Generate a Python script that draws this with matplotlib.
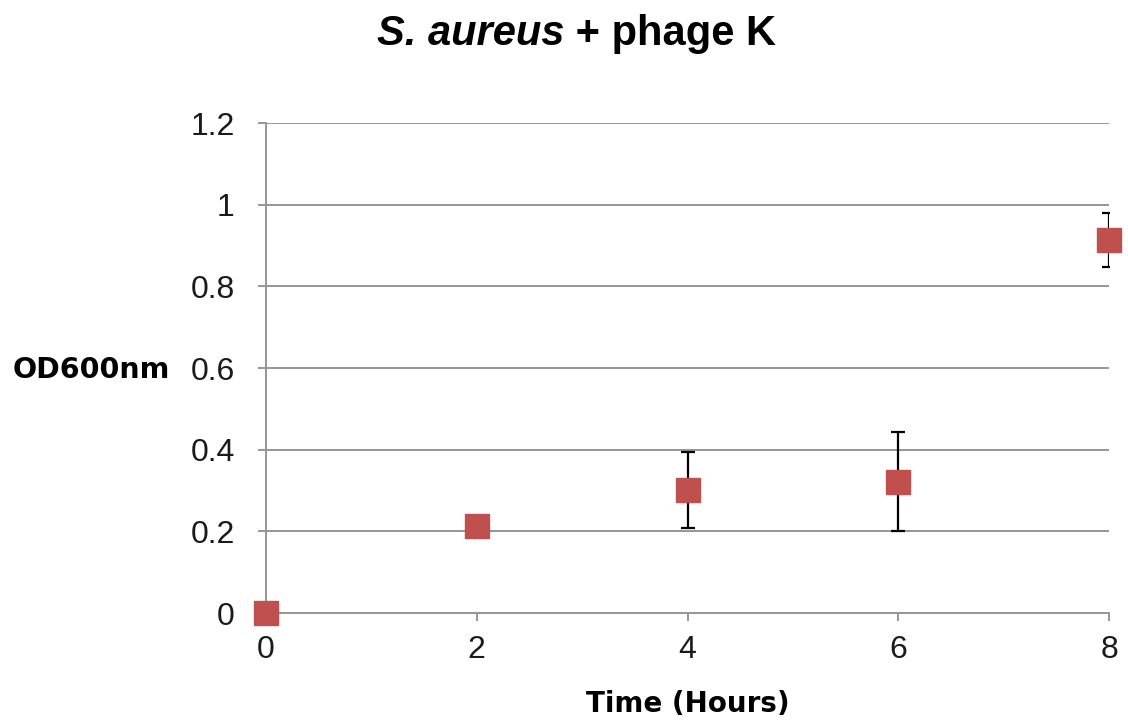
"""S. aureus + phage K growth curve (OD600 over time)."""

import matplotlib.pyplot as plt

hours = [0, 2, 4, 6, 8]
od600 = [0.0, 0.214, 0.301, 0.322, 0.914]
od600_err = [0.0, 0.0, 0.094, 0.121, 0.066]
y_ticks = [0, 0.2, 0.4, 0.6, 0.8, 1, 1.2]
y_tick_labels = ["0", "0.2", "0.4", "0.6", "0.8", "1", "1.2"]
x_ticks = [0, 2, 4, 6, 8]

MARKER_RED = "#c0504d"
GRID_GRAY = "#969696"
BOLD_FONT = ["DejaVu Sans"]
TITLE_FONT = ["Liberation Sans", "DejaVu Sans"]

plt.rcParams["font.family"] = ["Liberation Sans", "DejaVu Sans"]

fig = plt.figure(figsize=(11.28, 7.27), dpi=100)
ax = fig.add_axes([0.2358, 0.1568, 0.7474, 0.674])

# error bars clipped at the axes edge, markers drawn on top unclipped
ax.errorbar(hours, od600, yerr=od600_err, fmt="none", ecolor="black",
            elinewidth=1.6, capsize=5, capthick=1.6, zorder=3)
ax.plot(hours, od600, linestyle="none", marker="s", markersize=17.5,
        color=MARKER_RED, markeredgecolor=MARKER_RED, zorder=4, clip_on=False)

ax.set_xlim(0, 8)
ax.set_ylim(0, 1.2)
ax.set_xticks(x_ticks)
ax.set_yticks(y_ticks)
ax.set_yticklabels(y_tick_labels)
ax.tick_params(axis="both", labelsize=23, colors=GRID_GRAY, labelcolor="#1a1a1a",
               length=6, width=1.4, direction="out")
ax.tick_params(axis="x", pad=10)
ax.tick_params(axis="y", pad=16.5)

ax.grid(axis="y", color=GRID_GRAY, linewidth=1.4)
ax.set_axisbelow(True)
for side in ["top", "right"]:
    ax.spines[side].set_visible(False)
for side in ["left", "bottom"]:
    ax.spines[side].set_color(GRID_GRAY)
    ax.spines[side].set_linewidth(1.4)

ax.set_xlabel("Time (Hours)", fontsize=20, fontweight="bold", family=BOLD_FONT,
              labelpad=18)
fig.text(0.011, 0.491, "OD600nm", fontsize=20.5, fontweight="bold", family=BOLD_FONT,
         ha="left", va="center")

# title: italic species name followed by upright text
title_y = 0.938
t1 = fig.text(0.334, title_y, "S. aureus", fontsize=30, fontweight="bold",
              style="italic", family=TITLE_FONT, ha="left", va="baseline")
fig.canvas.draw()
bb = t1.get_window_extent()
fig.text(bb.x1 / fig.bbox.width, title_y, " + phage K", fontsize=30, fontweight="bold",
         family=TITLE_FONT, ha="left", va="baseline")

fig.savefig("out.png", dpi=100)
